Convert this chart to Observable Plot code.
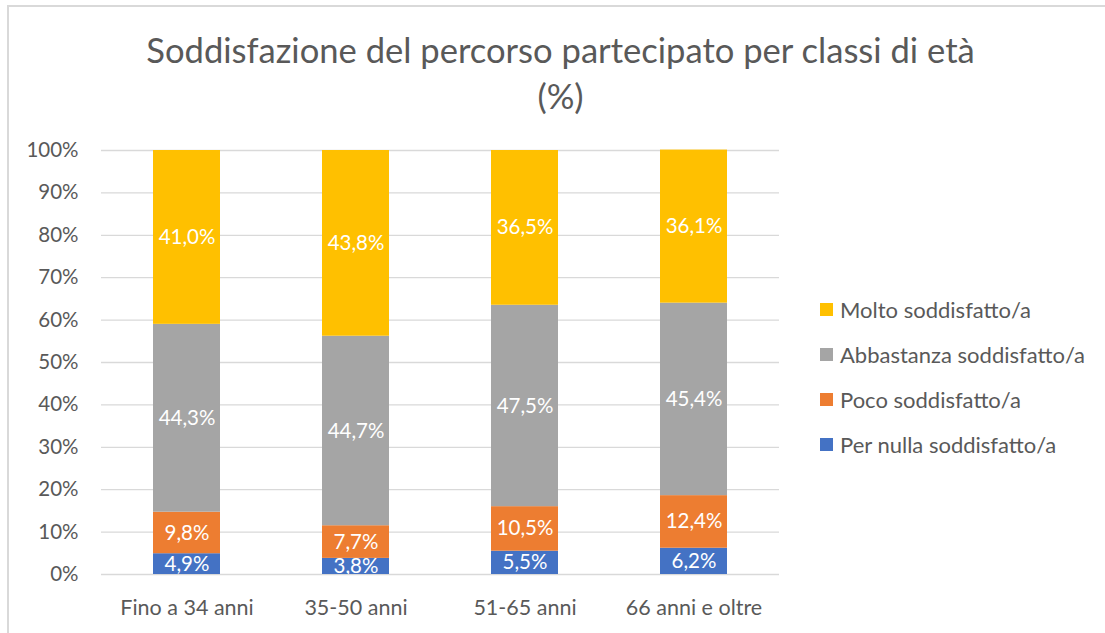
<!DOCTYPE html>
<html>
<head>
<meta charset="utf-8">
<script src="https://cdn.jsdelivr.net/npm/d3@7"></script>
<script src="https://cdn.jsdelivr.net/npm/@observablehq/plot@0.6"></script>
<style>
  html, body { margin: 0; padding: 0; background: #fff; }
  #wrap { position: relative; width: 1105px; height: 633px; overflow: hidden; font-family: Lato, "Open Sans", sans-serif; color: #595959; }
  #frame { position: absolute; left: 7px; top: 5px; width: 1200px; height: 700px; border-left: 2px solid #d9d9d9; border-top: 2px solid #d9d9d9; box-sizing: border-box; }
  #title { position: relative; height: 130px; text-align: center; font-weight: 400; font-size: 34.6px; line-height: 46px; padding-top: 27px; box-sizing: border-box; padding-left: 16px; }
  #legend { position: absolute; left: 820px; top: 287px; font-size: 22px; }
  #legend .row { display: flex; align-items: center; height: 45px; }
  #legend .sw { width: 13px; height: 13px; margin-right: 7px; }
  #chart { position: absolute; left: 0; top: 130px; }
</style>
</head>
<body>
<div id="wrap">
  <div id="frame"></div>
  <div id="title">Soddisfazione del percorso partecipato per classi di età<br>(%)</div>
  <div id="chart"></div>
  <div id="legend"></div>
</div>
<script>
const ageGroups = ["Fino a 34 anni", "35-50 anni", "51-65 anni", "66 anni e oltre"];
const levels = ["Per nulla soddisfatto/a", "Poco soddisfatto/a", "Abbastanza soddisfatto/a", "Molto soddisfatto/a"];
const levelColors = ["#4472C4", "#ED7D31", "#A5A5A5", "#FFC000"];
const perNulla = [4.9, 3.8, 5.5, 6.2];
const poco = [9.8, 7.7, 10.5, 12.4];
const abbastanza = [44.3, 44.7, 47.5, 45.4];
const molto = [41.0, 43.8, 36.5, 36.1];
const yTicks = [0, 0.1, 0.2, 0.3, 0.4, 0.5, 0.6, 0.7, 0.8, 0.9, 1];

const series = [perNulla, poco, abbastanza, molto];
const rows = [];
levels.forEach((lev, i) => {
  ageGroups.forEach((age, j) => {
    rows.push({age, level: lev, value: series[i][j] / 100, pct: series[i][j]});
  });
});

const fmt = v => d3.format(".1f")(v).replace(".", ",") + "%";

const plot = Plot.plot({
  width: 1105,
  height: 503,
  marginLeft: 101,
  marginRight: 326,
  marginTop: 20,
  marginBottom: 59,
  style: { fontFamily: "Lato, 'Open Sans', sans-serif", color: "#595959", background: "transparent" },
  x: { domain: ageGroups, paddingInner: 0.605, paddingOuter: 0.3025, label: null },
  y: { domain: [0, 1], label: null },
  color: { domain: levels, range: levelColors },
  marks: [
    Plot.gridY(yTicks, { stroke: "#d9d9d9", strokeOpacity: 1, strokeWidth: 1.3 }),
    Plot.axisY({ ticks: yTicks, tickFormat: d3.format(".0%"), tickSize: 0, tickPadding: 23, fontSize: 20.5, fill: "#595959", label: null }),
    Plot.axisX({ tickSize: 0, tickPadding: 25, fontSize: 21.5, fill: "#595959", label: null }),
    Plot.barY(rows, { x: "age", y: "value", fill: "level" }),
    Plot.text(rows, Plot.stackY({ x: "age", y: "value", text: d => fmt(d.pct), fill: "white", fontSize: 20.5, clip: true }))
  ]
});
document.getElementById("chart").appendChild(plot);

const legend = document.getElementById("legend");
[...levels].reverse().forEach(lev => {
  const row = document.createElement("div");
  row.className = "row";
  const sw = document.createElement("div");
  sw.className = "sw";
  sw.style.background = levelColors[levels.indexOf(lev)];
  const t = document.createElement("span");
  t.textContent = lev;
  row.appendChild(sw);
  row.appendChild(t);
  legend.appendChild(row);
});
</script>
</body>
</html>
